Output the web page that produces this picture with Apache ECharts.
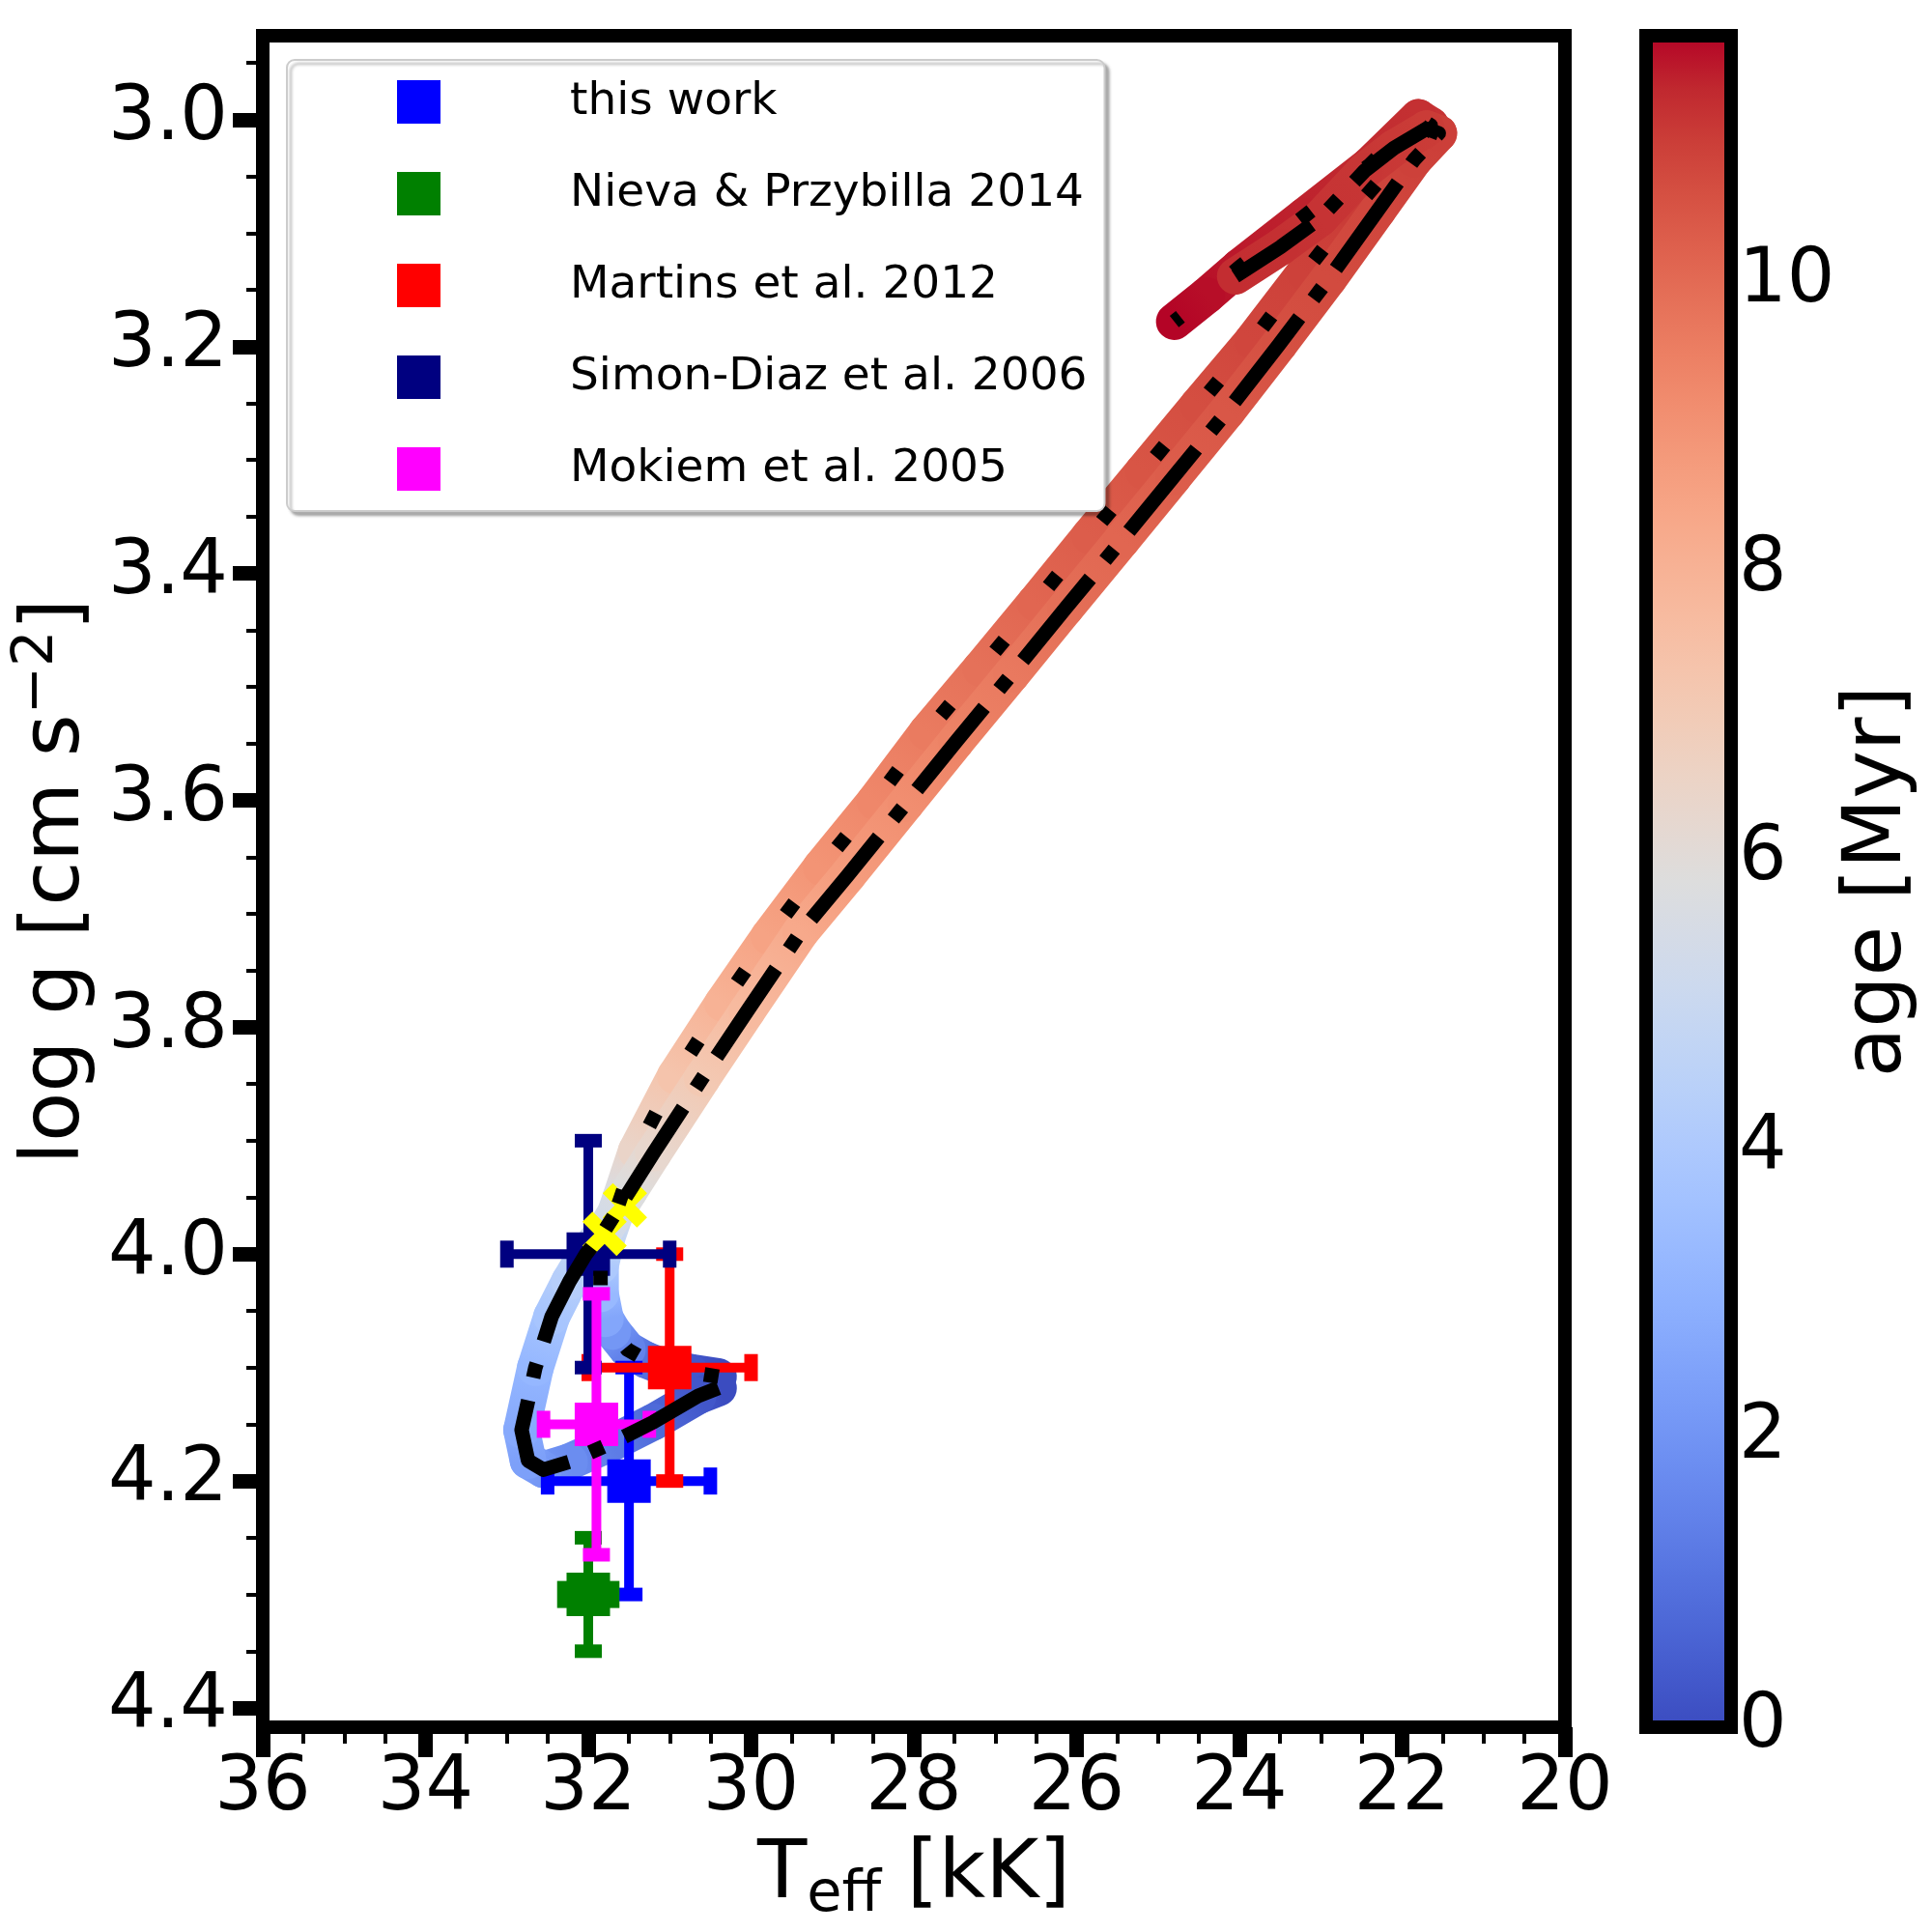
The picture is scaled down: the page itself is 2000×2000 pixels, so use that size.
<!DOCTYPE html>
<html>
<head>
<meta charset="utf-8">
<script src="https://cdn.jsdelivr.net/npm/echarts@6/dist/echarts.min.js"></script>
<style>
html, body { margin: 0; padding: 0; background: #fff; }
#main { width: 2000px; height: 2000px; }
</style>
</head>
<body>
<div id="main"></div>
<script>
// model track A (dash-dot black line)
var trackATeff = [30.40, 30.65, 31.20, 31.70, 32.23, 32.55, 32.74, 32.82, 32.65, 32.45, 32.23, 32.03, 31.79, 31.50, 31.20,
    30.60, 30.05, 29.39, 28.81, 28.10, 27.48, 26.80, 26.14, 25.45, 24.81, 24.15, 23.51, 22.90, 22.30, 21.85, 21.55,
    21.70, 22.10, 22.46, 23.01, 23.49, 24.05];
var trackALogg = [4.118, 4.125, 4.148, 4.166, 4.183, 4.190, 4.182, 4.155, 4.100, 4.055, 4.024, 4.000, 3.978, 3.945, 3.911,
    3.845, 3.786, 3.716, 3.666, 3.603, 3.548, 3.489, 3.431, 3.371, 3.315, 3.257, 3.198, 3.140, 3.080, 3.035, 3.012,
    3.008, 3.025, 3.045, 3.087, 3.112, 3.138];
var trackAAge = [0.0, 0.3, 0.8, 1.3, 1.8, 2.1, 2.4, 2.7, 3.2, 3.8, 4.3, 4.8, 5.3, 5.8, 6.3,
    7.1, 7.7, 8.3, 8.7, 9.1, 9.4, 9.65, 9.9, 10.1, 10.3, 10.45, 10.6, 10.7, 10.8, 10.9, 10.95,
    11.0, 11.05, 11.1, 11.15, 11.2, 11.25];

// model track B (dotted black line)
var trackBTeff = [30.40, 30.75, 31.02, 31.30, 31.52, 31.70, 31.79, 31.85, 31.85, 31.77, 31.60, 31.41,
    30.93, 30.35, 29.78, 29.14, 28.48, 27.84, 27.18, 26.51, 25.84, 25.18, 24.51, 23.84, 23.20, 22.60, 22.05, 21.65,
    21.80, 22.40, 23.20, 24.00, 24.40, 24.80];
var trackBLogg = [4.108, 4.104, 4.101, 4.093, 4.084, 4.068, 4.057, 4.035, 4.010, 3.985, 3.950, 3.909,
    3.843, 3.779, 3.720, 3.659, 3.601, 3.540, 3.484, 3.426, 3.367, 3.310, 3.252, 3.195, 3.135, 3.080, 3.035, 3.005,
    2.998, 3.040, 3.085, 3.130, 3.155, 3.178];
var trackBAge = [0.0, 0.3, 0.6, 1.0, 1.5, 2.1, 2.6, 3.3, 4.0, 4.8, 5.6, 6.5,
    7.3, 8.0, 8.5, 8.95, 9.3, 9.6, 9.85, 10.1, 10.3, 10.5, 10.65, 10.8, 10.9, 11.0, 11.1, 11.15,
    11.2, 11.3, 11.4, 11.5, 11.6, 11.7];

// literature values
var refNames = ['this work', 'Nieva & Przybilla 2014', 'Martins et al. 2012', 'Simon-Diaz et al. 2006', 'Mokiem et al. 2005'];
var refTeff = [31.5, 32.0, 31.0, 32.0, 31.9];
var refLogg = [4.2, 4.3, 4.1, 4.0, 4.15];
var refTeffErr = [1.0, 0.3, 1.0, 1.0, 0.65];
var refLoggErr = [0.1, 0.05, 0.1, 0.1, 0.115];
var refColors = ['#0000ff', '#008000', '#ff0000', '#000080', '#ff00ff'];

// yellow crosses on the tracks
var markTeff = [31.55, 31.80];
var markLogg = [3.957, 3.982];

// axes
var yMajorTicks = [3.0, 3.2, 3.4, 3.6, 3.8, 4.0, 4.2, 4.4];
var yMinorTicks = [2.95, 3.05, 3.1, 3.15, 3.25, 3.3, 3.35, 3.45, 3.5, 3.55, 3.65, 3.7, 3.75,
    3.85, 3.9, 3.95, 4.05, 4.1, 4.15, 4.25, 4.3, 4.35];
var ageTicks = [0, 2, 4, 6, 8, 10];
var ageRange = [0, 11.7];

var coolwarm = ['#3b4cc0', '#445acc', '#4d68d7', '#5775e1', '#6282ea', '#6c8ef1', '#779af7', '#82a5fb',
    '#8db0fe', '#98b9ff', '#a3c2ff', '#aec9fd', '#b8d0f9', '#c2d5f4', '#ccd9ee', '#d5dbe6', '#dddddd',
    '#e5d8d1', '#ecd3c5', '#f1ccb8', '#f5c4ac', '#f7bba0', '#f7b194', '#f7a687', '#f49a7b', '#f18d6f',
    '#ec7f63', '#e57058', '#de604d', '#d55042', '#cb3e38', '#c0282f', '#b40426'];

var FONT = 'DejaVu Sans';
var myChart = echarts.init(document.getElementById('main'));

function pts(t, g, a) {
    return t.map(function (v, i) { return a ? [v, g[i], a[i]] : [v, g[i]]; });
}

// thick age coloured band, one segment per data item
function bandSeries(t, g, a) {
    var n = t.length;
    return {
        type: 'custom', coordinateSystem: 'cartesian2d', silent: true,
        data: pts(t, g, a), encode: { x: 0, y: 1 },
        renderItem: function (params, api) {
            var i = params.dataIndexInside;
            if (i >= n - 1) return null;
            var p0 = api.coord([api.value(0, i), api.value(1, i)]);
            var p1 = api.coord([api.value(0, i + 1), api.value(1, i + 1)]);
            return {
                type: 'line',
                shape: { x1: p0[0], y1: p0[1], x2: p1[0], y2: p1[1] },
                style: {
                    lineWidth: 38, lineCap: 'round',
                    stroke: {
                        type: 'linear', global: true, x: p0[0], y: p0[1], x2: p1[0], y2: p1[1],
                        colorStops: [{ offset: 0, color: api.visual('color', i) }, { offset: 1, color: api.visual('color', i + 1) }]
                    }
                }
            };
        }
    };
}

function renderErr(params, api) {
    var x = api.value(0), y = api.value(1), ex = api.value(2), ey = api.value(3);
    var c = api.coord([x, y]);
    var pl = api.coord([x + ex, y]), pr = api.coord([x - ex, y]);
    var pt = api.coord([x, y - ey]), pb = api.coord([x, y + ey]);
    var col = api.visual('color');
    function seg(x1, y1, x2, y2, w) {
        return { type: 'line', shape: { x1: x1, y1: y1, x2: x2, y2: y2 }, style: { stroke: col, lineWidth: w } };
    }
    return {
        type: 'group',
        children: [
            seg(pl[0], pl[1], pr[0], pr[1], 10),
            seg(pt[0], pt[1], pb[0], pb[1], 10),
            seg(pl[0], pl[1] - 14, pl[0], pl[1] + 14, 14),
            seg(pr[0], pr[1] - 14, pr[0], pr[1] + 14, 14),
            seg(pt[0] - 14, pt[1], pt[0] + 14, pt[1], 14),
            seg(pb[0] - 14, pb[1], pb[0] + 14, pb[1], 14),
            { type: 'rect', shape: { x: c[0] - 22.5, y: c[1] - 22.5, width: 45, height: 45 }, style: { fill: col } }
        ]
    };
}

var series = [bandSeries(trackBTeff, trackBLogg, trackBAge), bandSeries(trackATeff, trackALogg, trackAAge)];

refNames.forEach(function (name, k) {
    series.push({
        type: 'custom', name: name, coordinateSystem: 'cartesian2d',
        itemStyle: { color: refColors[k] },
        data: [[refTeff[k], refLogg[k], refTeffErr[k], refLoggErr[k]]],
        encode: { x: 0, y: 1 },
        renderItem: renderErr
    });
});

series.push({
    type: 'line', data: pts(trackATeff, trackALogg), symbol: 'none', silent: true,
    lineStyle: { color: '#000', width: 15, type: [110, 24, 15, 24], cap: 'butt', join: 'round' }
});
series.push({
    type: 'line', data: pts(trackBTeff, trackBLogg), symbol: 'none', silent: true,
    lineStyle: { color: '#000', width: 15, type: [15, 72], cap: 'butt', join: 'round' }
});
series.push({
    type: 'scatter', data: pts(markTeff, markLogg), silent: true,
    symbol: 'path://M0,2.3 L2.3,0 L5,2.7 L7.7,0 L10,2.3 L7.3,5 L10,7.7 L7.7,10 L5,7.3 L2.3,10 L0,7.7 L2.7,5 Z',
    symbolSize: 46, itemStyle: { color: '#ffff00', opacity: 1 }
});
// colour bar body
series.push({
    type: 'custom', coordinateSystem: 'cartesian2d', xAxisIndex: 1, yAxisIndex: 1, silent: true,
    data: [[0, ageRange[0], ageRange[1]]], encode: { x: 0, y: 1 },
    renderItem: function (params, api) {
        var p0 = api.coord([0, api.value(1)]);
        var p1 = api.coord([1, api.value(2)]);
        var stops = coolwarm.map(function (c, i) { return { offset: i / (coolwarm.length - 1), color: c }; });
        return {
            type: 'rect',
            shape: { x: p0[0], y: p1[1], width: p1[0] - p0[0], height: p0[1] - p1[1] },
            style: { fill: { type: 'linear', global: true, x: 0, y: p0[1], x2: 0, y2: p1[1], colorStops: stops } }
        };
    }
});

var tickFont = { fontSize: 78, fontFamily: FONT, color: '#000' };

var option = {
    animation: false,
    backgroundColor: '#fff',
    grid: [
        { left: 272, top: 37, width: 1348, height: 1751, show: true, borderColor: '#000', borderWidth: 14, z: 3 },
        { left: 1704, top: 37, width: 88, height: 1751, show: true, borderColor: '#000', borderWidth: 14, z: 3 },
        { left: 272, top: 37, width: 1348, height: 1751, show: false }
    ],
    xAxis: [
        {
            gridIndex: 0, type: 'value', min: 20, max: 36, interval: 2, inverse: true, position: 'bottom',
            axisLine: { show: false }, splitLine: { show: false },
            axisTick: { length: 31, lineStyle: { color: '#000', width: 15 } },
            minorTick: { show: true, splitNumber: 4, length: 17, lineStyle: { color: '#000', width: 4 } },
            axisLabel: Object.assign({ margin: 26 }, tickFont),
            name: '{n|T}{s|eff}{n| [kK]}', nameLocation: 'middle', nameGap: 104,
            nameTextStyle: {
                fontSize: 84, fontFamily: FONT, color: '#000',
                rich: {
                    n: { fontSize: 84, fontFamily: FONT, color: '#000', lineHeight: 100, verticalAlign: 'middle' },
                    s: { fontSize: 59, fontFamily: FONT, color: '#000', lineHeight: 58, verticalAlign: 'bottom' }
                }
            }
        },
        { gridIndex: 1, type: 'value', min: 0, max: 1, show: false },
        { gridIndex: 2, type: 'value', min: 20, max: 36, show: false }
    ],
    yAxis: [
        {
            gridIndex: 0, type: 'value', min: 2.926, max: 4.417, inverse: true,
            axisLine: { show: false }, splitLine: { show: false },
            axisTick: { customValues: yMajorTicks, length: 31, lineStyle: { color: '#000', width: 15 } },
            axisLabel: Object.assign({ customValues: yMajorTicks, margin: 36, formatter: function (v) { return v.toFixed(1); } }, tickFont),
            name: '{n|log g [cm s}{p|\u22122}{n|]}', nameLocation: 'middle', nameRotate: 90, nameGap: 131,
            nameTextStyle: {
                fontSize: 84, fontFamily: FONT, color: '#000',
                rich: {
                    n: { fontSize: 84, fontFamily: FONT, color: '#000', lineHeight: 100, verticalAlign: 'middle' },
                    p: { fontSize: 59, fontFamily: FONT, color: '#000', lineHeight: 66, verticalAlign: 'top' }
                }
            }
        },
        {
            gridIndex: 1, type: 'value', min: ageRange[0], max: ageRange[1], position: 'right',
            axisLine: { show: false }, axisTick: { show: false }, splitLine: { show: false },
            axisLabel: Object.assign({ customValues: ageTicks, margin: 8 }, tickFont),
            name: 'age [Myr]', nameLocation: 'middle', nameRotate: 90, nameGap: 96,
            nameTextStyle: { fontSize: 84, fontFamily: FONT, color: '#000', lineHeight: 84 }
        },
        {
            gridIndex: 2, type: 'value', min: 2.926, max: 4.417, inverse: true,
            axisLine: { show: false }, splitLine: { show: false }, axisLabel: { show: false },
            axisTick: { customValues: yMinorTicks, length: 17, lineStyle: { color: '#000', width: 4 } }
        }
    ],
    visualMap: [{
        type: 'continuous', show: false, min: ageRange[0], max: ageRange[1], dimension: 2,
        seriesIndex: [0, 1], inRange: { color: coolwarm }
    }],
    legend: {
        data: refNames, orient: 'vertical', left: 297, top: 62, selectedMode: false,
        padding: [20, 18, 20, 114], itemWidth: 45, itemHeight: 45, itemGap: 48, icon: 'rect',
        backgroundColor: '#fff', borderColor: '#cccccc', borderWidth: 2, borderRadius: 8,
        shadowBlur: 3, shadowOffsetX: 4, shadowOffsetY: 4, shadowColor: 'rgba(0,0,0,0.3)',
        textStyle: { fontSize: 47, fontFamily: FONT, color: '#000', lineHeight: 45, padding: [0, 0, 0, 129] }
    },
    series: series
};

myChart.setOption(option);
window.addEventListener('resize', function () {
    myChart.resize();
});
</script>
</body>
</html>
